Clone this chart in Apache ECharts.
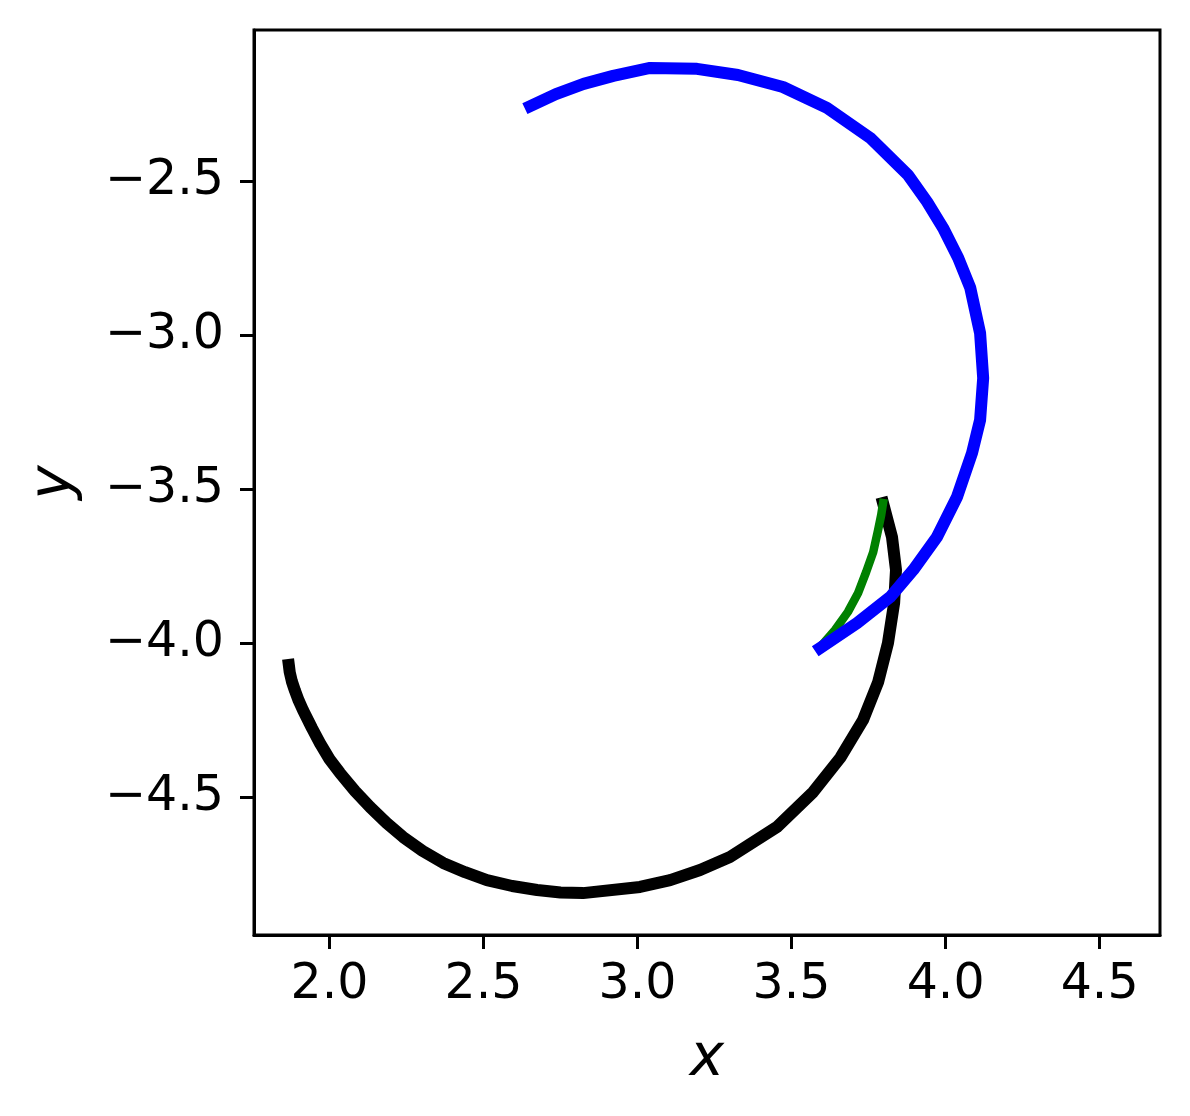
<!DOCTYPE html>
<html>
<head>
<meta charset="utf-8">
<script src="https://cdn.jsdelivr.net/npm/echarts@6/dist/echarts.min.js"></script>
<style>
  html, body { margin: 0; padding: 0; background: #fff; }
  #chart { width: 1190px; height: 1116px; }
</style>
</head>
<body>
<div id="chart"></div>
<script>
// 曲线数据 (x, y)
var blackX = [1.868, 1.871, 1.878, 1.888, 1.900, 1.914, 1.943, 1.969, 2.000, 2.034, 2.083, 2.132, 2.185,
              2.239, 2.302, 2.369, 2.440, 2.511, 2.593, 2.674, 2.750, 2.823,
              3.008, 3.106, 3.203, 3.300, 3.453, 3.570, 3.658, 3.732, 3.781, 3.813, 3.833, 3.839, 3.826, 3.797];
var blackY = [-4.071, -4.095, -4.125, -4.155, -4.187, -4.218, -4.276, -4.325, -4.377, -4.422, -4.481, -4.533, -4.584,
              -4.630, -4.675, -4.714, -4.744, -4.770, -4.789, -4.802, -4.810, -4.812,
              -4.792, -4.770, -4.737, -4.695, -4.597, -4.484, -4.373, -4.250, -4.127, -4.000, -3.870, -3.763, -3.656, -3.546];

var greenX = [3.593, 3.641, 3.683, 3.716, 3.742, 3.765, 3.781, 3.791, 3.797];
var greenY = [-4.013, -3.958, -3.899, -3.838, -3.770, -3.705, -3.633, -3.584, -3.546];

var blueX = [3.593, 3.713, 3.820, 3.895, 3.972, 4.037, 4.086, 4.112, 4.122, 4.112, 4.080, 4.041,
             3.992, 3.940, 3.878, 3.755, 3.615, 3.472, 3.326, 3.193, 3.041, 2.921, 2.825, 2.735, 2.652];
var blueY = [-4.016, -3.935, -3.851, -3.763, -3.656, -3.526, -3.383, -3.276, -3.140, -2.994, -2.847, -2.750,
             -2.653, -2.568, -2.481, -2.360, -2.263, -2.195, -2.156, -2.136, -2.133, -2.159, -2.185, -2.218, -2.257];

// 刻度
var xTicks = [2.0, 2.5, 3.0, 3.5, 4.0, 4.5];
var yTicks = [-4.5, -4.0, -3.5, -3.0, -2.5];
var xRange = [1.755, 4.696];
var yRange = [-4.948, -2.010];

function pairs(xs, ys){
    return xs.map(function(x, i){ return [x, ys[i]]; });
}
function tickText(v){
    return Number(v).toFixed(1).replace('-', '\u2212');
}

var font = 'DejaVu Sans';
var myChart = echarts.init(document.getElementById('chart'), null, {renderer: 'canvas'});

function lineSeries(name, data, color, width, z){
    return {
        name: name,
        type: 'line',
        data: data,
        showSymbol: false,
        symbol: 'none',
        z: z,
        lineStyle: {color: color, width: width, cap: 'square', join: 'round'}
    };
}

var option = {
    animation: false,
    backgroundColor: '#fff',
    grid: {
        left: 254, top: 30, width: 906, height: 905,
        show: true, borderColor: '#000', borderWidth: 3, backgroundColor: 'transparent'
    },
    xAxis: {
        type: 'value',
        min: xRange[0], max: xRange[1],
        name: 'x',
        nameLocation: 'middle',
        nameGap: 96,
        nameTextStyle: {fontFamily: font, fontStyle: 'italic', fontSize: 58, color: '#000'},
        axisLine: {onZero: false, lineStyle: {color: '#000', width: 3}},
        axisTick: {show: true, length: 14, lineStyle: {color: '#000', width: 3}, customValues: xTicks},
        axisLabel: {
            fontFamily: font, fontSize: 49, color: '#000', margin: 26,
            customValues: xTicks,
            formatter: tickText
        },
        splitLine: {show: false}
    },
    yAxis: {
        type: 'value',
        min: yRange[0], max: yRange[1],
        name: 'y',
        nameLocation: 'middle',
        nameGap: 170,
        nameTextStyle: {fontFamily: font, fontStyle: 'italic', fontSize: 58, color: '#000'},
        axisLine: {onZero: false, lineStyle: {color: '#000', width: 3}},
        axisTick: {show: true, length: 14, lineStyle: {color: '#000', width: 3}, customValues: yTicks},
        axisLabel: {
            fontFamily: font, fontSize: 49, color: '#000', margin: 30,
            customValues: yTicks,
            formatter: tickText
        },
        splitLine: {show: false}
    },
    series: [
        lineSeries('black', pairs(blackX, blackY), '#000000', 12, 2),
        lineSeries('green', pairs(greenX, greenY), '#008000', 8.5, 3),
        lineSeries('blue', pairs(blueX, blueY), '#0000ff', 12, 4)
    ]
};
myChart.setOption(option);
</script>
</body>
</html>
